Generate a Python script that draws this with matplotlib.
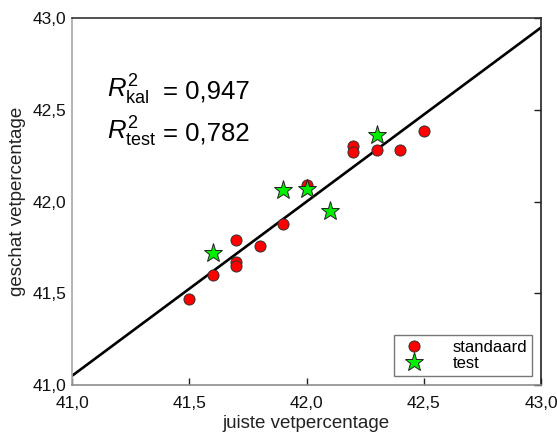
import matplotlib
matplotlib.use("Agg")
import matplotlib.pyplot as plt
import numpy as np

plt.rcParams['font.family'] = ['Liberation Sans', 'DejaVu Sans']
plt.rcParams['mathtext.fontset'] = 'custom'
plt.rcParams['mathtext.rm'] = 'Liberation Sans'
plt.rcParams['mathtext.it'] = 'Liberation Sans:italic'

# kalibratieset (standaard)
std_x = [41.5, 41.6, 41.7, 41.7, 41.7, 41.8, 41.9, 42.0, 42.2, 42.2, 42.3, 42.4, 42.5]
std_y = [41.47, 41.60, 41.79, 41.67, 41.65, 41.76, 41.875, 42.09, 42.30, 42.27, 42.28, 42.28, 42.385]

# testset
test_x = [41.6, 41.9, 42.0, 42.1, 42.3]
test_y = [41.72, 42.06, 42.07, 41.95, 42.36]

# regressielijn
line_x = [41.0, 43.0]
intercept = 41.05
slope = 0.949

r2_kal = "0,947"
r2_test = "0,782"

xticks = [41.0, 41.5, 42.0, 42.5, 43.0]
yticks = [41.0, 41.5, 42.0, 42.5, 43.0]
ticklabels = ["41,0", "41,5", "42,0", "42,5", "43,0"]

fig = plt.figure(figsize=(5.57, 4.37), dpi=100)
ax = fig.add_axes([0.1293, 0.119, 0.842, 0.8398])

lx = np.array(line_x)
ax.plot(lx, intercept + slope * (lx - 41.0), color='black', lw=1.9, zorder=2)

ax.plot(std_x, std_y, 'o', ms=8, mfc='#ff0000', mec='#333333', mew=0.7,
        label='standaard', zorder=3)
ax.plot(test_x, test_y, '*', ms=14, mfc='#00ee00', mec='#222222', mew=0.7,
        label='test', zorder=4)

ax.set_xlim(41.0, 43.0)
ax.set_ylim(41.0, 43.0)
ax.set_xticks(xticks)
ax.set_xticklabels(ticklabels)
ax.set_yticks(yticks)
ax.set_yticklabels(ticklabels)
ax.tick_params(axis='x', direction='in', length=5, width=1, color='#222222',
               labelsize=12.5, pad=8, top=False, labelcolor='#111111')
ax.tick_params(axis='y', direction='in', length=5, width=1, color='#222222',
               labelsize=12.5, pad=4, left=False, right=True, labelleft=True,
               labelcolor='#111111')

ax.spines['left'].set_color('#a8a8a8')
ax.spines['bottom'].set_color('#8c8c8c')
ax.spines['top'].set_color('#333333')
ax.spines['right'].set_color('#222222')
for s in ax.spines.values():
    s.set_linewidth(1.2)

ax.set_xlabel('juiste vetpercentage', fontsize=13.5, color='#222222', labelpad=3)
ax.set_ylabel('geschat vetpercentage', fontsize=13.5, color='#222222', labelpad=5)

# R^2 labels; "=" aligned in one column
ax.text(41.15, 42.564, r'$R^2_{\mathrm{kal}}$', fontsize=18.5, va='baseline', ha='left')
ax.text(41.388, 42.564, '= ' + r2_kal, fontsize=18.5, va='baseline', ha='left')
ax.text(41.15, 42.335, r'$R^2_{\mathrm{test}}$', fontsize=18.5, va='baseline', ha='left')
ax.text(41.388, 42.335, '= ' + r2_test, fontsize=18.5, va='baseline', ha='left')

leg = ax.legend(loc='lower right', bbox_to_anchor=(0.981, 0.0245), fontsize=12,
                frameon=True, fancybox=False, edgecolor='#555555',
                handletextpad=1.4, borderpad=0.3, labelspacing=0.05,
                handlelength=1.8, borderaxespad=0)
leg.get_frame().set_linewidth(1.0)

fig.savefig('out.png', dpi=100)
